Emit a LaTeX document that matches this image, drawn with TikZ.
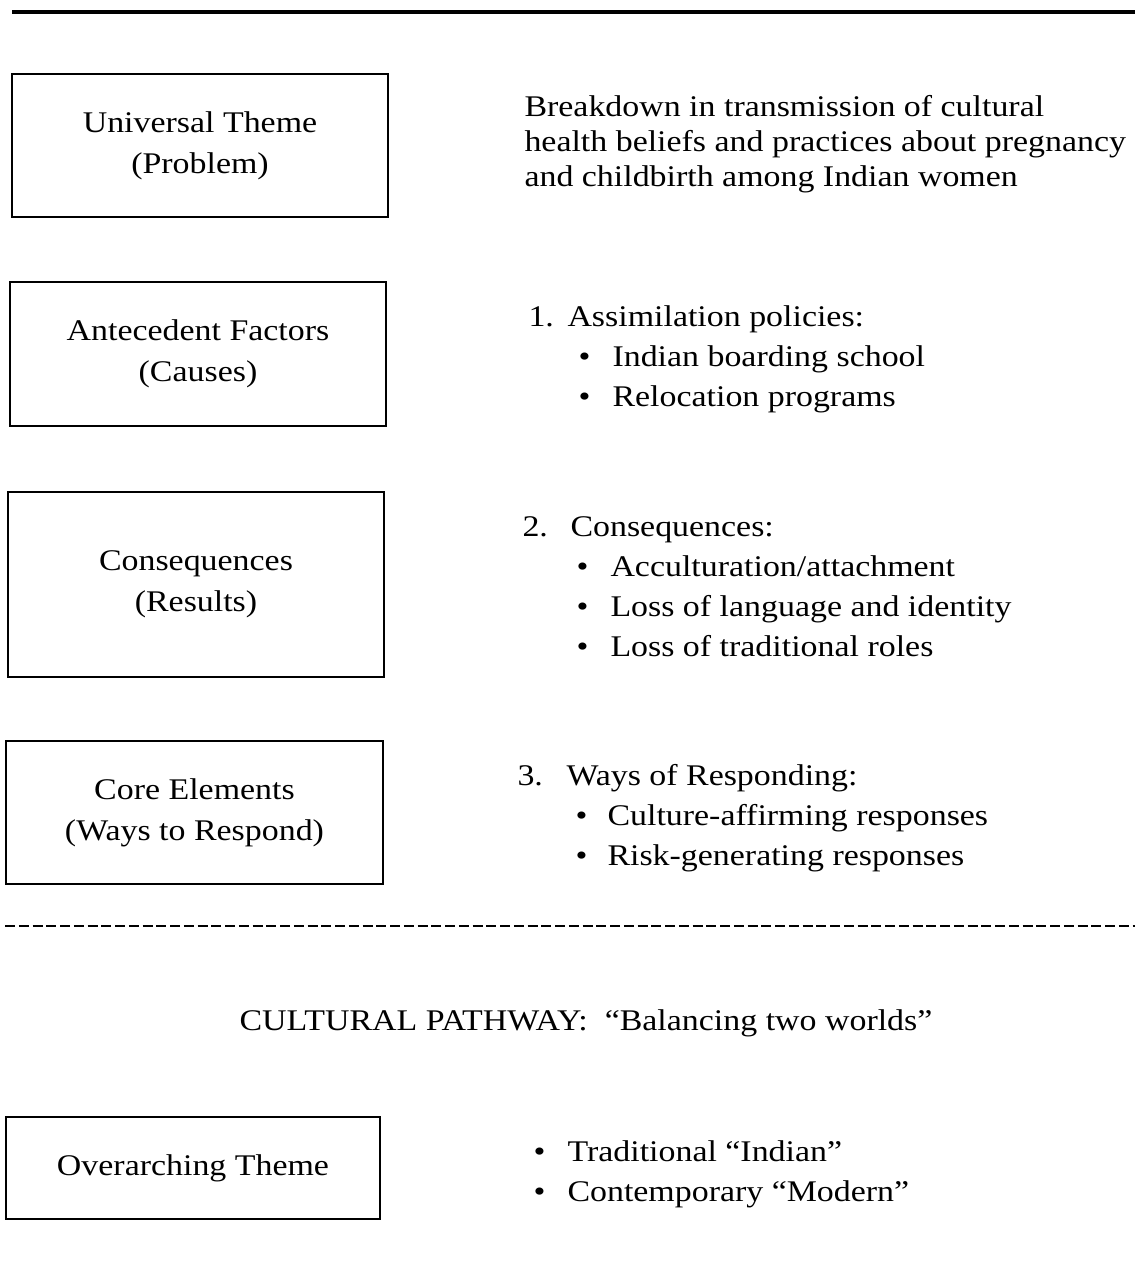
\documentclass[tikz,border=0pt]{standalone}
\usepackage{fontspec}
\setmainfont[FakeStretch=1.13]{Liberation Serif}
\tikzset{
  rule/.style={line width=1.3pt},
  dashrule/.style={line width=0.8pt,dash pattern=on 4pt off 1.5pt},
  boxline/.style={line width=0.8pt},
  txt/.style={anchor=base west,inner sep=0pt,font=\fontsize{12pt}{14pt}\selectfont},
  boxtxt/.style={align=center,font=\fontsize{12pt}{16.5pt}\selectfont}
}
\begin{document}
\begin{tikzpicture}[x=0.4pt,y=-0.4pt]
    \useasboundingbox (0,0) rectangle (1135,1277);
    % Rules
    \draw[rule] (12,12) -- (1135,12);
    \draw[dashrule] (5,926) -- (1135,926);
    % Boxes
    \draw[boxline] (12,74) rectangle (388,217)
      node[midway,boxtxt] (ut) {Universal Theme\\(Problem)};
    \draw[boxline] (10,282) rectangle (386,426)
      node[midway,boxtxt] (af) {Antecedent Factors\\(Causes)};
    \draw[boxline] (8,492) rectangle (384,677)
      node[midway,boxtxt] (cq) {Consequences\\(Results)};
    \draw[boxline] (6,741) rectangle (383,884)
      node[midway,boxtxt] (ce) {Core Elements\\(Ways to Respond)};
    \draw[boxline] (6,1117) rectangle (380,1219)
      node[midway,boxtxt] (ot) {Overarching Theme};
    % Problem text
    \node[txt] (p1) at (524,117) {Breakdown in transmission of cultural};
    \node[txt] (p2) at (524,152) {health beliefs and practices about pregnancy};
    \node[txt] (p3) at (524,187) {and childbirth among Indian women};
    % List 1
    \node[txt] (n1) at (528,327) {1.};
    \node[txt] (h1) at (567,327) {Assimilation policies:};
    \node[txt] (b11) at (578,367) {•};
    \node[txt] (t11) at (612,367) {Indian boarding school};
    \node[txt] (b12) at (578,407) {•};
    \node[txt] (t12) at (612,407) {Relocation programs};
    % List 2
    \node[txt] (n2) at (522,536) {2.};
    \node[txt] (h2) at (570,536) {Consequences:};
    \node[txt] (b21) at (576,576) {•};
    \node[txt] (t21) at (610,576) {Acculturation/attachment};
    \node[txt] (b22) at (576,616) {•};
    \node[txt] (t22) at (610,616) {Loss of language and identity};
    \node[txt] (b23) at (576,656) {•};
    \node[txt] (t23) at (610,656) {Loss of traditional roles};
    % List 3
    \node[txt] (n3) at (517,785) {3.};
    \node[txt] (h3) at (566,785) {Ways of Responding:};
    \node[txt] (b31) at (575,825) {•};
    \node[txt] (t31) at (607,825) {Culture-affirming responses};
    \node[txt] (b32) at (575,865) {•};
    \node[txt] (t32) at (607,865) {Risk-generating responses};
    % Pathway
    \node[txt,anchor=base] (cp) at (586,1030)
      {CULTURAL PATHWAY:\ \ “Balancing two worlds”};
    \node[txt] (b41) at (533,1161) {•};
    \node[txt] (t41) at (567,1161) {Traditional “Indian”};
    \node[txt] (b42) at (533,1201) {•};
    \node[txt] (t42) at (567,1201) {Contemporary “Modern”};
\end{tikzpicture}
\end{document}
